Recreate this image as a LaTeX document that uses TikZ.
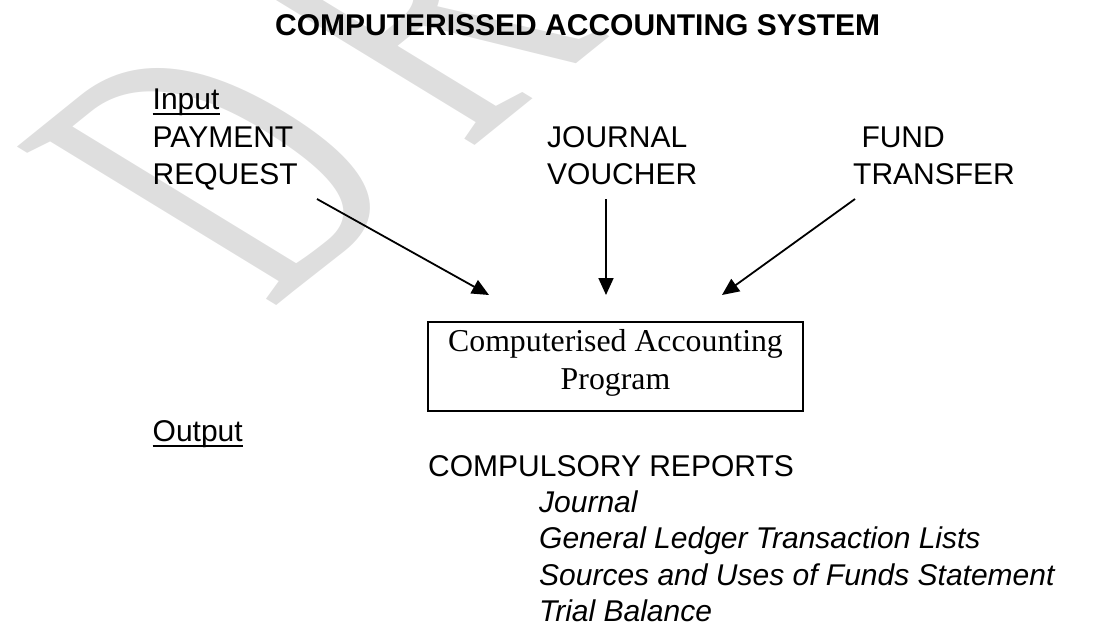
\documentclass[tikz,border=0pt]{standalone}
\usepackage{fontspec}
\setmainfont{Liberation Sans}
\newfontfamily\serifface{Liberation Serif}
\usetikzlibrary{arrows.meta}
\definecolor{watermark}{gray}{0.87}
\tikzset{
  lbl/.style={anchor=base west, inner sep=0pt, font=\fontsize{30}{36}\selectfont},
  itlbl/.style={lbl, font=\itshape\fontsize{30}{36}\selectfont},
  progtext/.style={anchor=base, inner sep=0pt, font=\serifface\fontsize{31.8}{37}\selectfont},
  flow/.style={line width=1.8pt, -{Triangle[length=17pt,width=15pt]}},
  uline/.style={line width=2pt}
}
\begin{document}
\begin{tikzpicture}[x=1pt,y=1pt]
\useasboundingbox (0,0) rectangle (1096,-626);

% faint, slanted DRAFT watermark behind everything
\begin{scope}
  \clip (0,0) rectangle (1096,-626);
  \begin{scope}[cm={2.14,1.725,-3.96,2.42,(269.7,-310.5)}]
    \node[anchor=base west, inner sep=0pt, transform shape, text=watermark,
          font=\serifface\fontsize{100}{100}\selectfont] (wm) at (0,0)
          {D\kern.2em R\kern.2em A\kern.2em F\kern.2em T};
  \end{scope}
\end{scope}

% title
\node[anchor=base west, inner sep=0pt, font=\bfseries\fontsize{30}{36}\selectfont]
  (title) at (275,-36) {COMPUTERISSED ACCOUNTING SYSTEM};

% inputs
\node[lbl] (input) at (152.5,-110) {Input};
\draw[uline] ([yshift=-4pt]input.base west) -- ([yshift=-4pt]input.base east);
\node[lbl] (pay1) at (152.5,-147) {PAYMENT};
\node[lbl] (pay2) at (152.5,-184) {REQUEST};
\node[lbl] (jv1) at (547,-147) {JOURNAL};
\node[lbl] (jv2) at (547,-184) {VOUCHER};
\node[lbl] (ft1) at (861.3,-147) {FUND};
\node[lbl] (ft2) at (853,-184) {TRANSFER};

% program box
\node[draw, line width=1.6pt, minimum width=375pt, minimum height=89pt, inner sep=0pt]
  (prog) at (615.5,-366.5) {};
\node[progtext] (progA) at ([yshift=14.8pt]prog.center) {Computerised Accounting};
\node[progtext] (progB) at ([yshift=-22.5pt]prog.center) {Program};

% connectors into the program
\coordinate (a1s) at (317,-199);
\coordinate (a1e) at (489,-295);
\coordinate (a2s) at (606,-199);
\coordinate (a2e) at (606,-295);
\coordinate (a3s) at (855,-199);
\coordinate (a3e) at (722,-295);
\draw[flow] (a1s) -- (a1e);
\draw[flow] (a2s) -- (a2e);
\draw[flow] (a3s) -- (a3e);

% outputs
\node[lbl] (output) at (152.5,-441.7) {Output};
\draw[uline] ([yshift=-4pt]output.base west) -- ([yshift=-4pt]output.base east);
\node[lbl] (reports) at (428,-476) {COMPULSORY REPORTS};
\node[itlbl] (r1) at (539,-512) {Journal};
\node[itlbl] (r2) at (539,-548.5) {General Ledger Transaction Lists};
\node[itlbl] (r3) at (539,-585) {Sources and Uses of Funds Statement};
\node[itlbl] (r4) at (539,-621.5) {Trial Balance};
\end{tikzpicture}
\end{document}
